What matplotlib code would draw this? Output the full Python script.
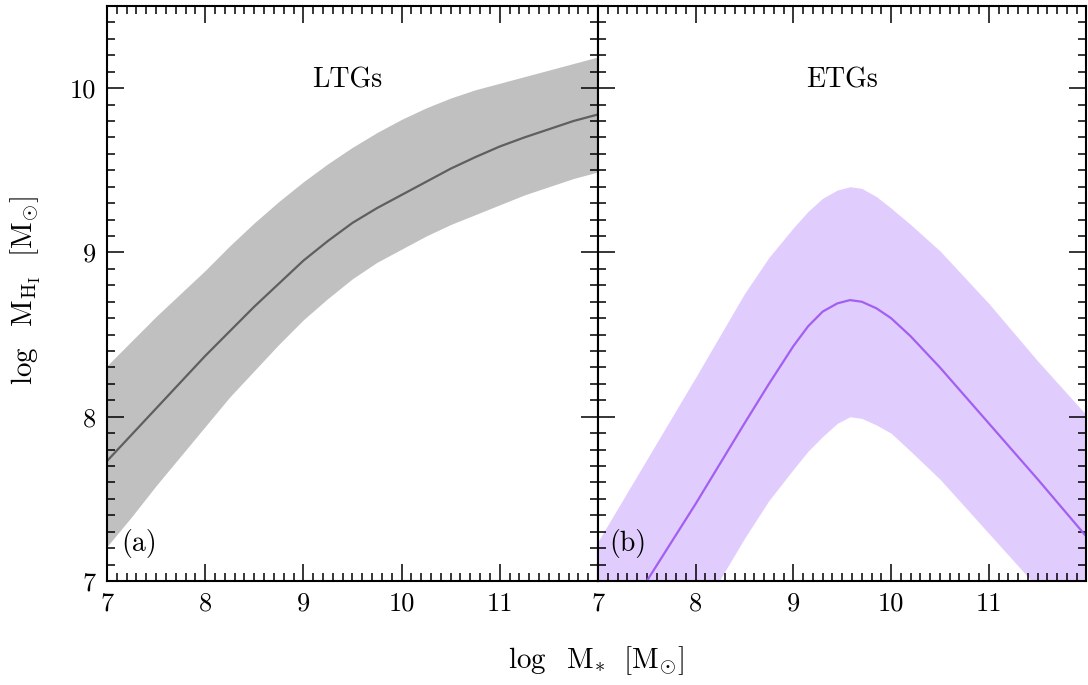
import matplotlib
matplotlib.use('Agg')
import matplotlib.pyplot as plt
from matplotlib.ticker import MultipleLocator, FixedLocator
import numpy as np

plt.rcParams['font.family'] = 'cmr10'
plt.rcParams['mathtext.fontset'] = 'cm'
plt.rcParams['axes.formatter.use_mathtext'] = True

# LTGs (panel a)
ltg_x = [7.0, 7.25, 7.5, 7.75, 8.0, 8.25, 8.5, 8.75, 9.0, 9.25, 9.5,
         9.75, 10.0, 10.25, 10.5, 10.75, 11.0, 11.25, 11.5, 11.75, 12.0]
ltg_mid = [7.73, 7.89, 8.05, 8.21, 8.37, 8.52, 8.67, 8.81, 8.95, 9.07, 9.18,
           9.27, 9.35, 9.43, 9.51, 9.58, 9.645, 9.70, 9.75, 9.80, 9.84]
ltg_hi = [8.31, 8.46, 8.61, 8.75, 8.89, 9.04, 9.18, 9.31, 9.43, 9.54, 9.64,
          9.73, 9.81, 9.88, 9.94, 9.99, 10.03, 10.07, 10.11, 10.15, 10.19]
ltg_lo = [7.21, 7.39, 7.58, 7.76, 7.94, 8.12, 8.28, 8.44, 8.59, 8.72, 8.84,
          8.94, 9.02, 9.10, 9.17, 9.23, 9.29, 9.35, 9.40, 9.45, 9.49]

# ETGs (panel b)
etg_x = [7.0, 7.5, 8.0, 8.5, 8.75, 9.0, 9.15, 9.3, 9.45, 9.58, 9.7, 9.85,
         10.0, 10.2, 10.5, 11.0, 11.5, 12.0]
etg_mid = [6.52, 7.00, 7.47, 7.96, 8.20, 8.43, 8.55, 8.64, 8.69, 8.71, 8.70, 8.66,
           8.60, 8.49, 8.30, 7.96, 7.62, 7.27]
etg_hi = [7.24, 7.74, 8.24, 8.75, 8.97, 9.15, 9.25, 9.33, 9.38, 9.40, 9.39, 9.34,
          9.27, 9.17, 9.01, 8.69, 8.34, 8.01]
etg_lo = [5.80, 6.28, 6.76, 7.26, 7.49, 7.68, 7.79, 7.88, 7.96, 8.00, 7.99, 7.95,
          7.90, 7.79, 7.62, 7.29, 6.96, 6.60]

fig = plt.figure(figsize=(10.88, 6.85), dpi=100)
ax1 = fig.add_axes([0.0983, 0.1518, 0.4513, 0.8394])
ax2 = fig.add_axes([0.5496, 0.1518, 0.4490, 0.8394])

ax1.fill_between(ltg_x, ltg_lo, ltg_hi, color='#c0c0c0', lw=0)
ax1.plot(ltg_x, ltg_mid, color='#5f5f5f', lw=1.6)
ax2.fill_between(etg_x, etg_lo, etg_hi, color='#e1cdfd', lw=0)
ax2.plot(etg_x, etg_mid, color='#a25ff2', lw=1.6)

for ax in (ax1, ax2):
    ax.set_xlim(7, 12)
    ax.set_ylim(7, 10.5)
    ax.xaxis.set_major_locator(FixedLocator([7, 8, 9, 10, 11]))
    ax.xaxis.set_minor_locator(MultipleLocator(0.1))
    ax.yaxis.set_major_locator(FixedLocator([7, 8, 9, 10]))
    ax.yaxis.set_minor_locator(MultipleLocator(0.1))
    ax.tick_params(which='both', direction='in', top=True, right=True, width=1.1)
    ax.tick_params(which='major', length=12, labelsize=19, pad=8)
    ax.tick_params(which='minor', length=6)
    for s in ax.spines.values():
        s.set_linewidth(1.5)
    ax.set_xticklabels(['7', '8', '9', '10', '11'])

ax2.set_yticklabels([])
ax1.set_yticklabels(['7', '8', '9', '10'])

ax1.text(9.45, 10.05, 'LTGs', fontsize=20, ha='center', va='center')
ax2.text(9.5, 10.05, 'ETGs', fontsize=20, ha='center', va='center')
ax1.text(7.15, 7.23, '(a)', fontsize=20, ha='left', va='center')
ax2.text(7.12, 7.23, '(b)', fontsize=20, ha='left', va='center')

fig.text(0.548, 0.035, r'$\log\ \ \mathrm{M}_{*}\ \ [\mathrm{M}_{\odot}]$', fontsize=21,
         ha='center', va='center')
fig.text(0.024, 0.575, r'$\log\ \ \mathrm{M}_{\mathrm{H}_{\mathrm{I}}}\ \ [\mathrm{M}_{\odot}]$',
         fontsize=21, ha='center', va='center', rotation=90)

plt.savefig('out.png', dpi=100)
